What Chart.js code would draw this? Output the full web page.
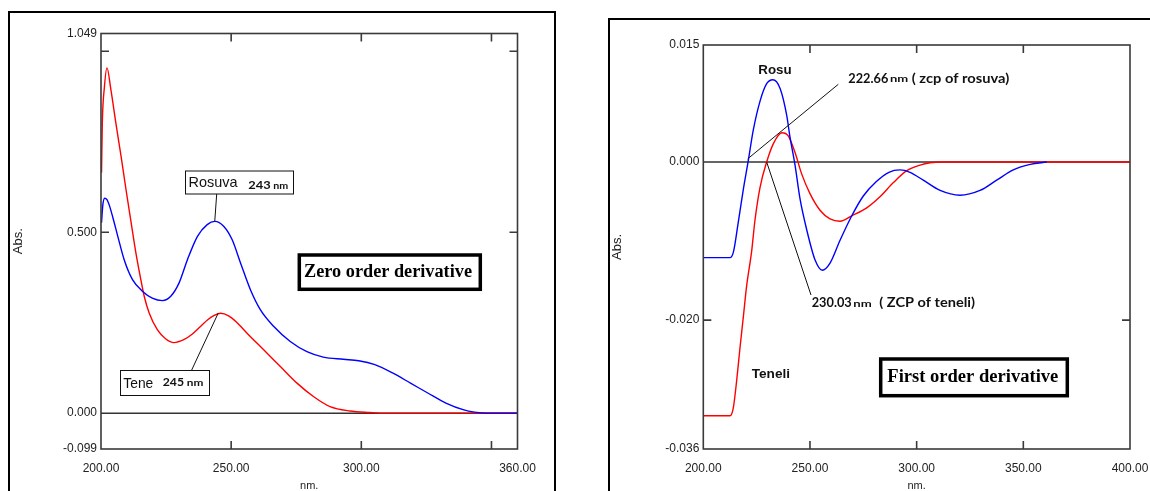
<!DOCTYPE html>
<html>
<head>
<meta charset="utf-8">
<title>Zero and first order derivative spectra</title>
<script src="https://cdn.jsdelivr.net/npm/chart.js@4.4.1/dist/chart.umd.min.js"></script>
<style>
  html, body { margin: 0; padding: 0; background: #fff; overflow: hidden; }
  body { width: 1150px; height: 491px; position: relative; }
  .frame { position: absolute; border: 2.5px solid #000; border-bottom: none; box-sizing: border-box; }
  #frameLeft { left: 8px; top: 11px; width: 548px; height: 490px; }
  #frameRight { left: 608px; top: 18px; width: 560px; height: 490px; }
  .panel { position: absolute; top: 0; width: 560px; height: 491px; }
  #zeroPanel { left: 0; }
  #firstPanel { left: 590px; }
</style>
</head>
<body>
<div class="frame" id="frameLeft"></div>
<div class="frame" id="frameRight"></div>
<div class="panel" id="zeroPanel"><canvas id="zeroChart" width="560" height="491"></canvas></div>
<div class="panel" id="firstPanel"><canvas id="firstChart" width="560" height="491"></canvas></div>
<script>
// ---- zero order spectra (nm / Abs.) ----
const zeroRosuvaNm = [200.2, 200.7, 201.4, 202.3, 203.3, 204.5, 206.4, 208.9, 212.1, 215.9, 219.7, 223.6, 226.8, 230.0, 233.2, 237.0, 240.8, 243.7, 247.2, 250.4, 253.6, 257.4, 261.2, 266.3, 272.7, 279.1, 285.4, 293.1, 299.0, 305.2, 312.0, 318.9, 325.7, 332.5, 339.4, 343.5, 348.0, 360.0];
const zeroRosuvaAbs = [0.526, 0.575, 0.594, 0.590, 0.572, 0.542, 0.490, 0.424, 0.369, 0.337, 0.318, 0.311, 0.323, 0.360, 0.424, 0.488, 0.521, 0.530, 0.516, 0.479, 0.415, 0.341, 0.286, 0.240, 0.198, 0.170, 0.155, 0.149, 0.145, 0.134, 0.111, 0.083, 0.055, 0.028, 0.009, 0.003, 0.000, 0.000];
const zeroTeneNm = [200.2, 200.5, 201.3, 202.3, 203.8, 205.7, 207.7, 209.6, 211.5, 213.4, 215.3, 216.6, 218.5, 221.7, 224.9, 228.0, 231.8, 235.0, 238.0, 241.0, 243.5, 246.0, 249.0, 252.0, 256.1, 262.5, 268.9, 275.3, 281.6, 288.0, 295.6, 303.3, 310.0, 360.0];
const zeroTeneAbs = [0.664, 0.800, 0.900, 0.954, 0.894, 0.802, 0.710, 0.618, 0.530, 0.443, 0.369, 0.323, 0.277, 0.230, 0.205, 0.195, 0.203, 0.218, 0.238, 0.258, 0.270, 0.276, 0.269, 0.252, 0.221, 0.175, 0.129, 0.083, 0.046, 0.018, 0.006, 0.002, 0.000, 0.000];

// ---- first order derivative spectra ----
const firstRosuNm = [200.0, 212.5, 214.1, 216.4, 218.8, 221.1, 223.4, 226.6, 229.7, 232.6, 236.0, 239.1, 240.6, 243.0, 245.3, 248.5, 252.4, 255.8, 259.4, 264.1, 269.6, 275.0, 281.0, 287.0, 292.2, 296.9, 303.1, 311.0, 320.3, 329.7, 337.5, 345.3, 353.2, 361.0];
const firstRosuVal = [-0.0121, -0.0121, -0.0114, -0.0076, -0.0034, 0.0002, 0.0040, 0.0077, 0.0099, 0.0104, 0.0093, 0.0059, 0.0032, -0.0004, -0.0046, -0.0086, -0.0124, -0.0137, -0.0128, -0.0099, -0.0068, -0.0043, -0.0025, -0.0013, -0.0010, -0.0013, -0.0023, -0.0036, -0.0042, -0.0036, -0.0023, -0.0010, -0.0003, 0.0000];
const firstTeneliNm = [200.0, 212.5, 214.0, 215.7, 217.2, 218.8, 220.3, 222.7, 224.2, 226.6, 229.7, 232.8, 236.8, 239.8, 243.0, 246.1, 250.0, 254.7, 259.4, 264.1, 269.6, 276.6, 282.8, 289.1, 295.4, 301.6, 306.3, 312.0, 400.0];
const firstTeneliVal = [-0.0321, -0.0321, -0.0312, -0.0275, -0.0235, -0.0195, -0.0157, -0.0112, -0.0074, -0.0032, 0.0000, 0.0023, 0.0037, 0.0033, 0.0012, -0.0015, -0.0040, -0.0061, -0.0072, -0.0075, -0.0068, -0.0058, -0.0044, -0.0026, -0.0011, -0.0004, -0.0001, 0.0000, 0.0000];

// ---- axis ticks ----
const zeroXTicks = [200, 250, 300, 360];
const zeroXLabels = ["200.00", "250.00", "300.00", "360.00"];
const zeroYTicks = [-0.099, 0, 0.5, 1.049];
const zeroYLabels = ["-0.099", "0.000", "0.500", "1.049"];
const firstXTicks = [200, 250, 300, 350, 400];
const firstXLabels = ["200.00", "250.00", "300.00", "350.00", "400.00"];
const firstYTicks = [-0.0363, -0.020, 0, 0.0148];
const firstYLabels = ["-0.036", "-0.020", "0.000", "0.015"];

function toPoints(xs, ys) {
  return xs.map((x, i) => ({ x: x, y: ys[i] }));
}

const sans = "'Liberation Sans', Arial, sans-serif";

// text squeezed/stretched to a width, left aligned, vertically centred
function fitText(ctx, text, x, y, font, width) {
  ctx.font = font;
  const w = ctx.measureText(text).width;
  ctx.save();
  ctx.translate(x, y);
  ctx.scale(width ? width / w : 1, 1);
  ctx.textAlign = "left";
  ctx.textBaseline = "middle";
  ctx.fillText(text, 0, 0);
  ctx.restore();
}

// plot frame, inner tick marks and the 0 line
const framePlugin = {
  id: "frame",
  beforeDatasetsDraw(chart, args, opts) {
    const { ctx, chartArea: a, scales } = chart;
    const y0 = scales.y.getPixelForValue(0);
    ctx.save();
    ctx.strokeStyle = "#333";
    ctx.lineWidth = 1.5;
    ctx.beginPath();
    ctx.moveTo(a.left, y0);
    ctx.lineTo(a.right, y0);
    ctx.stroke();
    ctx.restore();
  },
  afterDatasetsDraw(chart, args, opts) {
    const { ctx, chartArea: a, scales } = chart;
    ctx.save();
    ctx.strokeStyle = "#3a3a3a";
    ctx.lineWidth = 1.6;
    ctx.strokeRect(a.left, a.top, a.right - a.left, a.bottom - a.top);
    ctx.beginPath();
    (opts.xMarks || []).forEach(v => {
      const px = scales.x.getPixelForValue(v);
      ctx.moveTo(px, a.top); ctx.lineTo(px, a.top + 8);
      ctx.moveTo(px, a.bottom); ctx.lineTo(px, a.bottom - 8);
    });
    (opts.yMarks || []).forEach(v => {
      const py = scales.y.getPixelForValue(v);
      ctx.moveTo(a.left, py); ctx.lineTo(a.left + 8, py);
      ctx.moveTo(a.right, py); ctx.lineTo(a.right - 8, py);
    });
    ctx.stroke();
    ctx.restore();
  },
  afterDraw(chart, args, opts) {
    if (opts.notes) opts.notes(chart);
  }
};

function baseOptions(xMin, xMax, yMin, yMax, xTicks, xLabels, yTicks, yLabels, yWidth, yTitlePad, padRight, padTop) {
  return {
    responsive: false,
    animation: false,
    layout: { padding: { left: 0, right: padRight, top: padTop, bottom: 0 } },
    plugins: { legend: { display: false }, tooltip: { enabled: false } },
    elements: { point: { radius: 0 }, line: { borderWidth: 1.4, cubicInterpolationMode: "monotone" } },
    scales: {
      x: {
        type: "linear", min: xMin, max: xMax,
        grid: { display: false, drawTicks: false }, border: { display: false },
        afterBuildTicks: s => { s.ticks = xTicks.map(v => ({ value: v })); },
        afterFit: s => { s.height = 42; s.paddingLeft = 0; s.paddingRight = 0; },
        ticks: { autoSkip: false, maxRotation: 0, padding: 12, color: "#222", font: { family: sans, size: 12 },
                 callback: (v, i) => xLabels[i] },
        title: { display: true, text: "nm.", color: "#222", font: { family: sans, size: 11, lineHeight: 1 }, padding: { top: 0, bottom: 0 } }
      },
      y: {
        type: "linear", min: yMin, max: yMax,
        grid: { display: false, drawTicks: false }, border: { display: false },
        afterBuildTicks: s => { s.ticks = yTicks.map(v => ({ value: v })); },
        afterFit: s => { s.width = yWidth; s.paddingTop = 0; s.paddingBottom = 0; },
        ticks: { autoSkip: false, padding: 4, color: "#222", font: { family: sans, size: 12 },
                 callback: (v, i) => yLabels[i] },
        title: { display: true, text: "Abs.", color: "#222", font: { family: sans, size: 13, lineHeight: 1.2 }, padding: { top: yTitlePad, bottom: 0 } }
      }
    }
  };
}

// ---------- zero order chart ----------
const zeroOpts = baseOptions(200, 360, -0.099, 1.049, zeroXTicks, zeroXLabels, zeroYTicks, zeroYLabels, 101, 11, 42.5, 33.5);
zeroOpts.plugins.frame = {
  xMarks: [250, 300, 350],
  yMarks: [0.5, 1.0],
  notes(chart) {
    const { ctx, scales: { x, y } } = chart;
    ctx.save();
    ctx.fillStyle = "#000";
    ctx.strokeStyle = "#111";
    // leader lines to the two maxima
    ctx.lineWidth = 1;
    ctx.beginPath();
    ctx.moveTo(216.7, 194);
    ctx.lineTo(x.getPixelForValue(243.7), y.getPixelForValue(0.530));
    ctx.moveTo(191.7, 370);
    ctx.lineTo(x.getPixelForValue(245.0), y.getPixelForValue(0.276));
    ctx.stroke();
    ctx.fillStyle = "#fff";
    ctx.fillRect(185.5, 171, 108, 23);
    ctx.fillRect(120.5, 370.5, 89, 25);
    ctx.strokeRect(185.5, 171, 108, 23);
    ctx.strokeRect(120.5, 370.5, 89, 25);
    ctx.fillStyle = "#111";
    fitText(ctx, "Rosuva", 188.5, 183, "15px " + sans, 49);
    fitText(ctx, "243", 248.3, 185.5, "bold 12px Lato, sans-serif", 22.4);
    fitText(ctx, "nm", 273.3, 186, "bold 10px Lato, sans-serif", 15);
    fitText(ctx, "Tene", 123.3, 383.5, "15px " + sans, 30);
    fitText(ctx, "245", 162.7, 382, "bold 12px Lato, sans-serif", 21.3);
    fitText(ctx, "nm", 186.7, 382.5, "bold 10px Lato, sans-serif", 16.6);
    // Zero order box
    ctx.fillStyle = "#fff";
    ctx.fillRect(299.3, 255, 181, 34.3);
    ctx.lineWidth = 3.5;
    ctx.strokeStyle = "#000";
    ctx.strokeRect(299.3, 255, 181, 34.3);
    ctx.fillStyle = "#000";
    fitText(ctx, "Zero order derivative", 304, 272.5, "bold 18px 'Liberation Serif', 'Times New Roman', serif", 168);
    ctx.restore();
  }
};
new Chart(document.getElementById("zeroChart"), {
  type: "line",
  data: {
    datasets: [
      { label: "Rosuva", data: toPoints(zeroRosuvaNm, zeroRosuvaAbs), borderColor: "#0000ff" },
      { label: "Tene", data: toPoints(zeroTeneNm, zeroTeneAbs), borderColor: "#ff0000" }
    ]
  },
  options: zeroOpts,
  plugins: [framePlugin]
});

// ---------- first order chart ----------
const firstOpts = baseOptions(200, 400, -0.0363, 0.0148, firstXTicks, firstXLabels, firstYTicks, firstYLabels, 113.3, 20, 20, 45);
firstOpts.plugins.frame = {
  xMarks: [250, 300, 350],
  yMarks: [-0.02],
  notes(chart) {
    const { ctx, scales: { x, y } } = chart;
    const ox = 590;
    ctx.save();
    ctx.strokeStyle = "#111";
    ctx.lineWidth = 1;
    ctx.beginPath();
    ctx.moveTo(x.getPixelForValue(220.8), y.getPixelForValue(0.0004));
    ctx.lineTo(838.3 - ox, 84.3);
    ctx.moveTo(x.getPixelForValue(229.7), y.getPixelForValue(0));
    ctx.lineTo(811 - ox, 295);
    ctx.stroke();
    ctx.fillStyle = "#111";
    fitText(ctx, "Rosu", 758.3 - ox, 70.5, "bold 13px " + sans, 33.4);
    fitText(ctx, "Teneli", 751.7 - ox, 374.5, "bold 13px " + sans, 38.3);
    fitText(ctx, "222.66", 848.3 - ox, 78.5, "bold 13px Lato, sans-serif", 40);
    fitText(ctx, "nm", 890 - ox, 79, "bold 10px Lato, sans-serif", 18.3);
    fitText(ctx, "( zcp of rosuva)", 911.7 - ox, 78.5, "bold 13px Lato, sans-serif", 97.6);
    fitText(ctx, "230.03", 811.7 - ox, 303, "bold 13px Lato, sans-serif", 40);
    fitText(ctx, "nm", 853.3 - ox, 303.5, "bold 10px Lato, sans-serif", 18.4);
    fitText(ctx, "( ZCP of teneli)", 879.3 - ox, 303, "bold 13px Lato, sans-serif", 95.7);
    // First order box
    ctx.fillStyle = "#fff";
    ctx.fillRect(880.7 - ox, 359, 186.6, 36.7);
    ctx.lineWidth = 3.5;
    ctx.strokeStyle = "#000";
    ctx.strokeRect(880.7 - ox, 359, 186.6, 36.7);
    ctx.fillStyle = "#000";
    fitText(ctx, "First order derivative", 887.3 - ox, 377.5, "bold 18px 'Liberation Serif', 'Times New Roman', serif", 171);
    ctx.restore();
  }
};
new Chart(document.getElementById("firstChart"), {
  type: "line",
  data: {
    datasets: [
      { label: "Rosu", data: toPoints(firstRosuNm, firstRosuVal), borderColor: "#0000ff" },
      { label: "Teneli", data: toPoints(firstTeneliNm, firstTeneliVal), borderColor: "#ff0000" }
    ]
  },
  options: firstOpts,
  plugins: [framePlugin]
});
</script>
</body>
</html>
